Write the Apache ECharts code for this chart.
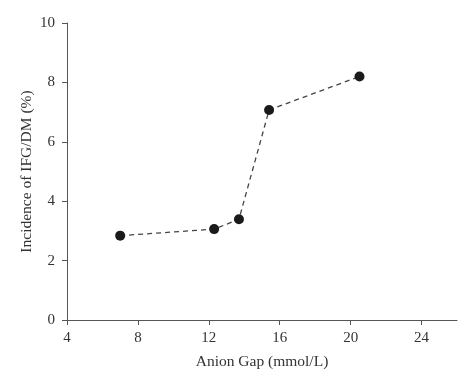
<!DOCTYPE html>
<html><head><meta charset="utf-8">
<script src="https://cdn.jsdelivr.net/npm/echarts@6/dist/echarts.min.js"></script>
<style>html,body{margin:0;padding:0;background:#fff}#c{width:474px;height:387px}</style>
</head><body><div id="c"></div>
<script>
const anionGap = [7.0, 12.3, 13.7, 15.4, 20.5];
const incidence = [2.84, 3.06, 3.39, 7.07, 8.2];
const xTicks = [4, 8, 12, 16, 20, 24];
const yTicks = [0, 2, 4, 6, 8, 10];

const chart = echarts.init(document.getElementById('c'));
const font = 'Liberation Serif';
chart.setOption({
  animation: false,
  backgroundColor: '#fff',
  grid: {left: 67, right: 17, top: 23, bottom: 67},
  xAxis: {
    type: 'value', min: 4, max: 26, interval: 4,
    name: 'Anion Gap (mmol/L)', nameLocation: 'middle', nameGap: 34, nameMoveOverlap: false,
    nameTextStyle: {fontFamily: font, fontSize: 15.5, color: '#333'},
    axisLine: {onZero: false, lineStyle: {color: '#555', width: 1}},
    axisTick: {show: true, length: 5, lineStyle: {color: '#555'}},
    axisLabel: {fontFamily: font, fontSize: 15, color: '#333', margin: 11, showMaxLabel: false,
      formatter: v => xTicks.includes(v) ? String(v) : ''},
    splitLine: {show: false}
  },
  yAxis: {
    type: 'value', min: 0, max: 10, interval: 2,
    name: 'Incidence of IFG/DM (%)', nameLocation: 'middle', nameGap: 32, nameMoveOverlap: false,
    nameTextStyle: {fontFamily: font, fontSize: 15.5, color: '#333'},
    axisLine: {show: true, lineStyle: {color: '#555', width: 1}},
    axisTick: {show: true, length: 5, lineStyle: {color: '#555'}},
    axisLabel: {fontFamily: font, fontSize: 15, color: '#333', margin: 12,
      formatter: v => yTicks.includes(v) ? String(v) : ''},
    splitLine: {show: false}
  },
  series: [{
    type: 'line',
    data: anionGap.map((x, i) => [x, incidence[i]]),
    symbol: 'circle', symbolSize: 10,
    itemStyle: {color: '#1a1a1a'},
    lineStyle: {color: '#444', width: 1.3, type: [5, 4]}
  }]
});
</script></body></html>
